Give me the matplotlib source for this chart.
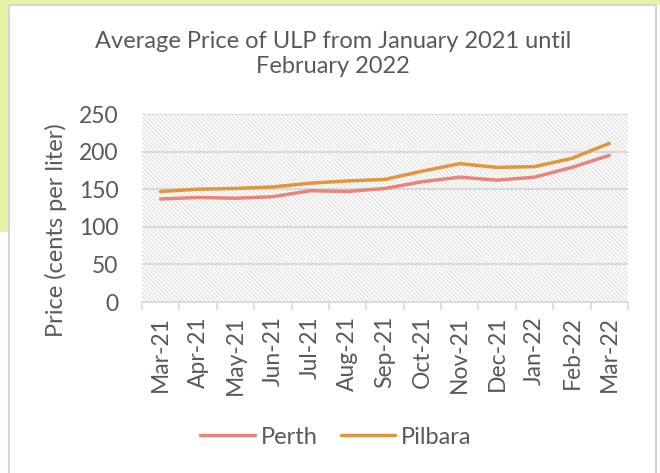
import matplotlib.pyplot as plt
import matplotlib.patches as mpatches
from matplotlib.ticker import FixedLocator

# Data
months = ['Mar-21', 'Apr-21', 'May-21', 'Jun-21', 'Jul-21', 'Aug-21', 'Sep-21',
          'Oct-21', 'Nov-21', 'Dec-21', 'Jan-22', 'Feb-22', 'Mar-22']
perth = [137, 139, 138, 140, 148, 147, 151, 160, 166, 162, 166, 179, 195]
pilbara = [147, 150, 151, 153, 158, 161, 163, 174, 184, 179, 180, 191, 211]
y_ticks = [0, 50, 100, 150, 200, 250]

text_col = '#595959'
grid_col = '#d9d9d9'
plt.rcParams['font.family'] = ['Lato', 'DejaVu Sans']
plt.rcParams['hatch.color'] = '#dedede'
plt.rcParams['hatch.linewidth'] = 0.8

fig = plt.figure(figsize=(6.6, 4.73), dpi=100)
fig.patch.set_facecolor('white')

# green page background peeking out behind the chart box
green = '#e6f4a9'
fig.patches.append(mpatches.Rectangle((0, 1 - 5 / 473), 1, 5 / 473, transform=fig.transFigure,
                                      facecolor=green, edgecolor='none', zorder=0))
fig.patches.append(mpatches.Rectangle((0, 1 - 232 / 473), 8 / 660, 232 / 473, transform=fig.transFigure,
                                      facecolor=green, edgecolor='none', zorder=0))
# chart box border
fig.patches.append(mpatches.Rectangle((8.5 / 660, -0.01), 648 / 660, 1 - 5.5 / 473 + 0.01,
                                      transform=fig.transFigure, facecolor='none',
                                      edgecolor='#d4d4d4', linewidth=1.5, zorder=1))

ax = fig.add_axes([142 / 660, 1 - 302 / 473, 486 / 660, 188 / 473])
ax.set_facecolor('white')
x = list(range(len(months)))

# hatched plot area
ax.add_patch(mpatches.Rectangle((0, 0), 1, 1, transform=ax.transAxes, facecolor='white',
                                hatch='\\' * 8, linewidth=0, zorder=0))

ax.plot(x, perth, color='#e8857a', linewidth=2.5, label='Perth', solid_capstyle='round', zorder=3)
ax.plot(x, pilbara, color='#e0963c', linewidth=2.5, label='Pilbara', solid_capstyle='round', zorder=3)

ax.set_xlim(-0.5, len(months) - 0.5)
ax.set_ylim(0, 250)
ax.set_yticks(y_ticks)
ax.set_xticks(x)
ax.set_xticklabels(months, rotation=90)
ax.xaxis.set_minor_locator(FixedLocator([i - 0.5 for i in range(len(months) + 1)]))
ax.tick_params(axis='x', which='major', length=0, pad=10, labelsize=16.5, labelcolor=text_col)
ax.tick_params(axis='x', which='minor', length=6, color=grid_col, width=1.2)
ax.tick_params(axis='y', length=0, pad=17, labelsize=16.5, labelcolor=text_col)

ax.grid(axis='y', color=grid_col, linewidth=1.5, zorder=1)
ax.set_axisbelow(True)
for s in ['top', 'right', 'left']:
    ax.spines[s].set_visible(False)
ax.spines['bottom'].set_color(grid_col)
ax.spines['bottom'].set_linewidth(1.2)

ax.set_ylabel('Price (cents per liter)', fontsize=17, color=text_col)
ax.yaxis.set_label_coords((67 - 142) / 486, 0.5 - 22 / 188)

fig.text(0.505, 1 - 54 / 473, 'Average Price of ULP from January 2021 until\nFebruary 2022',
         ha='center', va='center', fontsize=17, color=text_col, linespacing=1.2)

fig.legend(loc='center', bbox_to_anchor=(336 / 660, 1 - 437 / 473), ncol=2, frameon=False,
           fontsize=17, labelcolor=text_col, handlelength=2.3, columnspacing=1.0, handletextpad=0.25)

plt.savefig('out.png', dpi=100, facecolor=fig.get_facecolor())
